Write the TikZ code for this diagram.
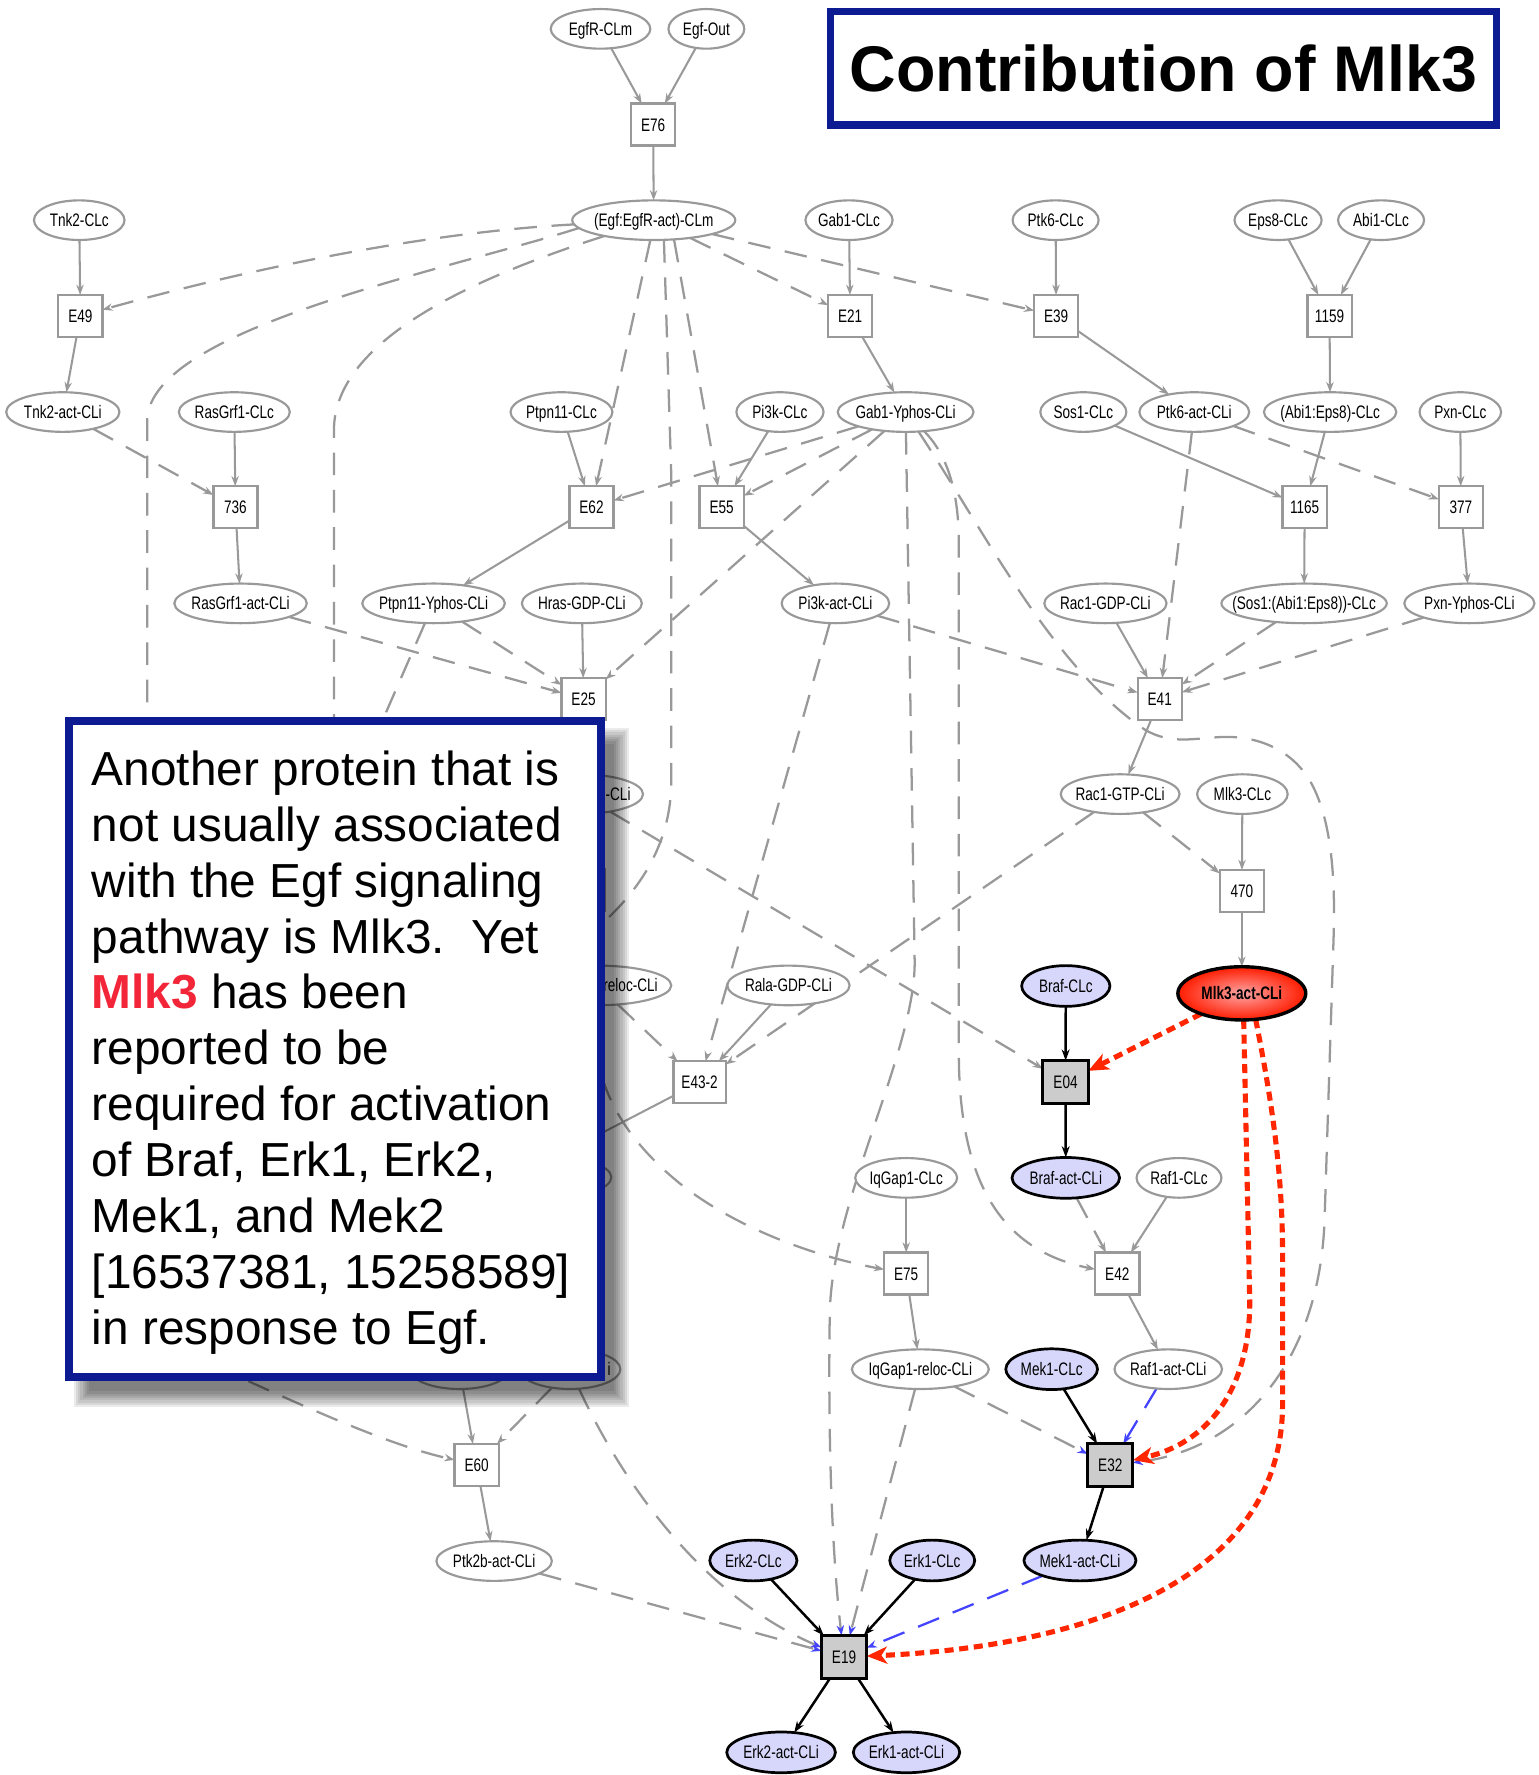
\documentclass[tikz,border=0pt]{standalone}
\usepackage{fontspec}
\setmainfont{Liberation Sans}
\newfontfamily\nodefont[FakeStretch=0.75]{Liberation Sans}
\newfontfamily\headfont{Liberation Sans}
\usetikzlibrary{arrows.meta,shapes.geometric}
\pgfdeclarelayer{paper}
\pgfdeclarelayer{wires}
\pgfdeclarelayer{overlay}
\pgfsetlayers{paper,wires,main,overlay}

\definecolor{linegray}{RGB}{153,153,153}
\definecolor{boxgray}{RGB}{204,204,204}
\definecolor{lav}{RGB}{215,215,252}
\definecolor{navy}{RGB}{12,27,145}
\definecolor{dotred}{RGB}{255,38,0}
\definecolor{modblue}{RGB}{68,68,255}
\definecolor{mlkred}{RGB}{242,38,56}

% centred label that does not widen the node
\newcommand\lab[1]{\makebox[0pt]{#1}}

\begin{document}
\begin{tikzpicture}[x=1pt,y=-1pt,
  every node/.style={inner sep=0pt,outer sep=0pt},
  lbl/.style={font=\nodefont\fontsize{16}{19}\selectfont,text height=11.6pt,text depth=0pt},
  sp/.style={lbl,ellipse,draw=linegray,line width=1.9pt,fill=white,minimum height=35pt},
  spk/.style={lbl,ellipse,draw=black,line width=2.4pt,fill=lav,minimum height=36pt},
  rx/.style={lbl,rectangle,draw=linegray,line width=2pt,fill=white,minimum width=39pt,minimum height=37pt},
  rxk/.style={lbl,rectangle,draw=black,line width=2.6pt,fill=boxgray,minimum width=40pt,minimum height=38pt},
  conv/.style={draw=linegray,line width=1.8pt,-{Stealth[length=9pt,width=6.5pt]}},
  conk/.style={draw=black,line width=2.2pt,-{Stealth[length=10pt,width=7pt]}},
  modg/.style={draw=linegray,line width=2pt,dash pattern=on 20pt off 13pt,-{Stealth[length=9pt,width=6.5pt]}},
  bluetip/.style={-{Stealth[length=9pt,width=6.5pt,color=modblue]}},
  modb/.style={draw=modblue,line width=2pt,dash pattern=on 20pt off 13pt,-{Stealth[length=9pt,width=6.5pt]}},
  req/.style={draw=dotred,line width=4.5pt,dash pattern=on 8pt off 5pt,-{Stealth[length=18pt,width=15pt,inset=5pt]}}
]
\useasboundingbox (0,0) rectangle (1359,1568);
\begin{pgfonlayer}{paper}
  \fill[white] (0,0) rectangle (1359,1568);
\end{pgfonlayer}

% ---------------- species and reactions ----------------
\node[sp,minimum width=88] (egfr) at (530.5,25.5) {\lab{EgfR-CLm}};
\node[sp,minimum width=67] (egfout) at (624,25.5) {\lab{Egf-Out}};
\node[rx] (e76) at (577,110) {E76};
\node[sp,minimum width=144] (eg) at (577.5,194.5) {\lab{(Egf:EgfR-act)-CLm}};
\node[sp,minimum width=80] (tnk2) at (70,194.5) {\lab{Tnk2-CLc}};
\node[sp,minimum width=77] (gab1) at (750,194.5) {\lab{Gab1-CLc}};
\node[sp,minimum width=76] (ptk6) at (932.5,194.5) {\lab{Ptk6-CLc}};
\node[sp,minimum width=77] (eps8) at (1129,194.5) {\lab{Eps8-CLc}};
\node[sp,minimum width=76] (abi1) at (1220,194.5) {\lab{Abi1-CLc}};

\node[rx] (e49) at (71,279) {E49};
\node[rx] (e21) at (751,279) {E21};
\node[rx] (e39) at (933,279) {E39};
\node[rx] (n1159) at (1174.5,279) {1159};

\node[sp,minimum width=100] (tnk2a) at (55.5,364) {\lab{Tnk2-act-CLi}};
\node[sp,minimum width=98] (rasgrf1) at (207,364) {\lab{RasGrf1-CLc}};
\node[sp,minimum width=90] (ptpn11) at (496,364) {\lab{Ptpn11-CLc}};
\node[sp,minimum width=77] (pi3k) at (689,364) {\lab{Pi3k-CLc}};
\node[sp,minimum width=120] (gab1y) at (800,364) {\lab{Gab1-Yphos-CLi}};
\node[sp,minimum width=76] (sos1) at (957,364) {\lab{Sos1-CLc}};
\node[sp,minimum width=97] (ptk6a) at (1055,364) {\lab{Ptk6-act-CLi}};
\node[sp,minimum width=117] (abieps) at (1175,364) {\lab{(Abi1:Eps8)-CLc}};
\node[sp,minimum width=72] (pxn) at (1290,364) {\lab{Pxn-CLc}};

\node[rx] (n736) at (208,448) {736};
\node[rx] (e62) at (522.5,448) {E62};
\node[rx] (e55) at (637.5,448) {E55};
\node[rx] (n1165) at (1152.5,448) {1165};
\node[rx] (n377) at (1290.5,448) {377};

\node[sp,minimum width=117] (rasgrf1a) at (212.5,533) {\lab{RasGrf1-act-CLi}};
\node[sp,minimum width=126] (ptpn11y) at (383,533) {\lab{Ptpn11-Yphos-CLi}};
\node[sp,minimum width=106] (hrasgdp) at (514,533) {\lab{Hras-GDP-CLi}};
\node[sp,minimum width=95] (pi3ka) at (738,533) {\lab{Pi3k-act-CLi}};
\node[sp,minimum width=108] (rac1gdp) at (976.5,533) {\lab{Rac1-GDP-CLi}};
\node[sp,minimum width=146] (sosabi) at (1152,533) {\lab{(Sos1:(Abi1:Eps8))-CLc}};
\node[sp,minimum width=115] (pxny) at (1298,533) {\lab{Pxn-Yphos-CLi}};

\node[rx] (e25) at (515.5,617.5) {E25};
\node[rx] (e41) at (1024.5,617.5) {E41};

\node[sp,minimum width=110] (hrasgtp) at (513,701.5) {};
\node[lbl,anchor=east] (hrasgtptxt) at (557,701.5) {-CLi};
\node[sp,minimum width=105] (rac1gtp) at (989.5,701.5) {\lab{Rac1-GTP-CLi}};
\node[sp,minimum width=80] (mlk3) at (1097.5,701.5) {\lab{Mlk3-CLc}};

\node[rx] (hbox) at (515,786.5) {};
\node[rx] (n470) at (1097,787) {470};

\node[sp,minimum width=130] (hreloc) at (528,870.5) {};
\node[lbl,anchor=east] (hreloctxt) at (581,870.5) {reloc-CLi};
\node[sp,minimum width=108] (ralagdp) at (696.5,870.5) {\lab{Rala-GDP-CLi}};
\node[spk,minimum width=78] (braf) at (941.5,871) {\lab{Braf-CLc}};
\node[lbl,ellipse,draw=black,line width=3pt,minimum width=113,minimum height=47,
      shade,shading=radial,inner color={rgb,255:red,255;green,165;blue,165},
      outer color={rgb,255:red,255;green,28;blue,0},
      font=\nodefont\bfseries\fontsize{16}{19}\selectfont] (mlk3a) at (1097,877.5) {\lab{Mlk3-act-CLi}};

\node[rx,minimum width=46pt] (e432) at (618,956) {E43-2};
\node[rxk] (e04) at (941.3,956) {E04};

\node[sp,minimum width=100] (hrgtp) at (490,1040) {};
\node[sp,minimum width=90] (iqgap1) at (800.5,1040.5) {\lab{IqGap1-CLc}};
\node[spk,minimum width=95] (brafa) at (941.5,1040.5) {\lab{Braf-act-CLi}};
\node[sp,minimum width=75] (raf1) at (1041.5,1040.5) {\lab{Raf1-CLc}};

\node[rx] (e75) at (800.5,1125) {E75};
\node[rx] (e42) at (987,1125) {E42};

\node[sp,minimum width=88] (hp1) at (406,1209.5) {};
\node[sp,minimum width=89] (hp2) at (503.5,1209.5) {};
\node[lbl,anchor=east] (hp2txt) at (539.5,1209.5) {i};
\node[sp,minimum width=121] (iqgapr) at (813,1209.5) {\lab{IqGap1-reloc-CLi}};
\node[spk,minimum width=81] (mek1) at (929,1209.5) {\lab{Mek1-CLc}};
\node[sp,minimum width=95] (raf1a) at (1032,1209.5) {\lab{Raf1-act-CLi}};

\node[rx] (e60) at (421,1294) {E60};
\node[rxk] (e32) at (980.8,1294.5) {E32};

\node[sp,minimum width=102] (ptk2ba) at (436.5,1379) {\lab{Ptk2b-act-CLi}};
\node[spk,minimum width=77] (erk2) at (665.5,1378.5) {\lab{Erk2-CLc}};
\node[spk,minimum width=75] (erk1) at (823.5,1378.5) {\lab{Erk1-CLc}};
\node[spk,minimum width=99] (meka) at (954,1378.5) {\lab{Mek1-act-CLi}};

\node[rxk] (e19) at (745.6,1463.8) {E19};

\node[spk,minimum width=96] (erk2a) at (690,1548) {\lab{Erk2-act-CLi}};
\node[spk,minimum width=94] (erk1a) at (800.8,1548) {\lab{Erk1-act-CLi}};

\coordinate (cC) at (295,900);
\coordinate (cD) at (480,860);
\coordinate (cE) at (308,705);

% ---------------- connectors ----------------
\begin{pgfonlayer}{wires}
  % reactant / product arcs
  \foreach \a/\b in {egfr/e76,egfout/e76,e76/eg,tnk2/e49,e49/tnk2a,gab1/e21,e21/gab1y,
      ptk6/e39,e39/ptk6a,eps8/n1159,abi1/n1159,n1159/abieps,rasgrf1/n736,n736/rasgrf1a,
      ptpn11/e62,e62/ptpn11y,pi3k/e55,e55/pi3ka,sos1/n1165,abieps/n1165,n1165/sosabi,
      pxn/n377,n377/pxny,hrasgdp/e25,e25/hrasgtp,rac1gdp/e41,e41/rac1gtp,mlk3/n470,
      n470/mlk3a,ralagdp/e432,iqgap1/e75,e75/iqgapr,raf1/e42,e42/raf1a,hp1/e60,e60/ptk2ba}
    \draw[conv] (\a) -- (\b);
  \draw[conv] (e432) -- (hrgtp.north);
  \foreach \a/\b in {braf/e04,e04/brafa,mek1/e32,e32/meka,erk2/e19,erk1/e19,e19/erk2a,e19/erk1a}
    \draw[conk] (\a) -- (\b);

  % modifier arcs
  \foreach \a/\b in {eg/e21,eg/e39,tnk2a/n736,rasgrf1a/e25,ptpn11y/e25,ptpn11y/cE,
      gab1y/e62,gab1y/e55,gab1y/e25,pi3ka/e41,pi3ka/e432,ptk6a/e41,ptk6a/n377,
      sosabi/e41,pxny/e41,rac1gtp/n470,rac1gtp/e432,hrasgtp/e04,hreloc/e432,
      brafa/e42,hp2/e60}
    \draw[modg] (\a) -- (\b);
  \draw[modg] ([xshift=-3pt]eg.south) -- (e62);
  \draw[modg] ([xshift=18pt]eg.south) -- (e55);
  \draw[modg] (eg) .. controls (380,205) and (230,235) .. (e49);
  \draw[modg] (eg.186) .. controls (390,240) and (135,290) .. (130,370) -- (130,1090)
      .. controls (130,1170) and (165,1195) .. (217,1219)
      .. controls (290,1252) and (350,1278) .. (e60);
  \draw[modg] (eg) .. controls (420,245) and (295,300) .. (295,380) -- (cC);
  \draw[modg] ([xshift=9pt]eg.south) -- (593,420) -- (593,690)
      .. controls (593,740) and (570,780) .. (536,812) -- (cD);
  \draw[modg,bluetip] (gab1y) -- (808,850) .. controls (808,930) and (735,1060) .. (733,1160)
      .. controls (731,1300) and (737,1390) .. (e19);
  \draw[modg] (gab1y) .. controls (835,400) and (847,430) .. (847,480) -- (847,930)
      .. controls (847,1045) and (885,1105) .. (e42);
  \draw[modg,bluetip] (gab1y) .. controls (870,470) and (930,590) .. (1012,645)
      .. controls (1035,658) and (1055,652) .. (1080,651)
      .. controls (1115,650) and (1145,665) .. (1160,695)
      .. controls (1175,725) and (1180,770) .. (1178,830) -- (1170,1080)
      .. controls (1165,1200) and (1100,1280) .. (e32);
  \draw[modg] (hreloc) .. controls (520,950) and (545,1000) .. (600,1045)
      .. controls (650,1085) and (720,1110) .. (e75);
  \foreach \a/\b in {iqgapr/e32,iqgapr/e19,ptk2ba/e19}
    \draw[modg,bluetip] (\a) -- (\b);
  \draw[modg,bluetip] (hp2) .. controls (550,1310) and (620,1410) .. (e19);
  \draw[modb] (raf1a) -- (e32);
  \draw[modb] (meka) -- (e19);

  % Mlk3 requirement arcs
  \draw[req] (mlk3a) -- (e04);
  \draw[req] (mlk3a.-86) -- (1104,1150) .. controls (1104,1230) and (1065,1275) .. (e32);
  \draw[req] (mlk3a.-62) .. controls (1125,980) and (1133,1040) .. (1133,1110) -- (1133,1240)
      .. controls (1133,1400) and (950,1455) .. (e19);
\end{pgfonlayer}

% ---------------- title and note ----------------
\begin{pgfonlayer}{overlay}
  \foreach \e in {0,2,...,14}
    \fill[black,opacity=0.08] (65+\e,643+\e) rectangle (556-\e,1243-\e);
  \node[draw=navy,line width=7pt,fill=white,minimum width=469.2,minimum height=579.3,
        anchor=north west] (note) at (61.3,636.7) {};
  \node[anchor=north west,align=left,font=\fontsize{42.2}{49.36}\selectfont] (notetext) at (81.2,663.2)
    {Another protein that is\\
     not usually associated\\
     with the Egf signaling\\
     pathway is Mlk3.\ \ Yet\\
     \textcolor{mlkred}{\bfseries Mlk3} has been\\
     reported to be\\
     required for activation\\
     of Braf, Erk1, Erk2,\\
     Mek1, and Mek2\\
     {[}16537381, 15258589{]}\\
     in response to Egf.};
  \node[draw=navy,line width=6.5pt,fill=white,minimum width=588.5,minimum height=100.5,
        font=\headfont\bfseries\fontsize{57}{61}\selectfont,text height=40.8pt,text depth=0pt]
        (title) at (1027.75,60.25) {Contribution of Mlk3};
\end{pgfonlayer}
\end{tikzpicture}
\end{document}
